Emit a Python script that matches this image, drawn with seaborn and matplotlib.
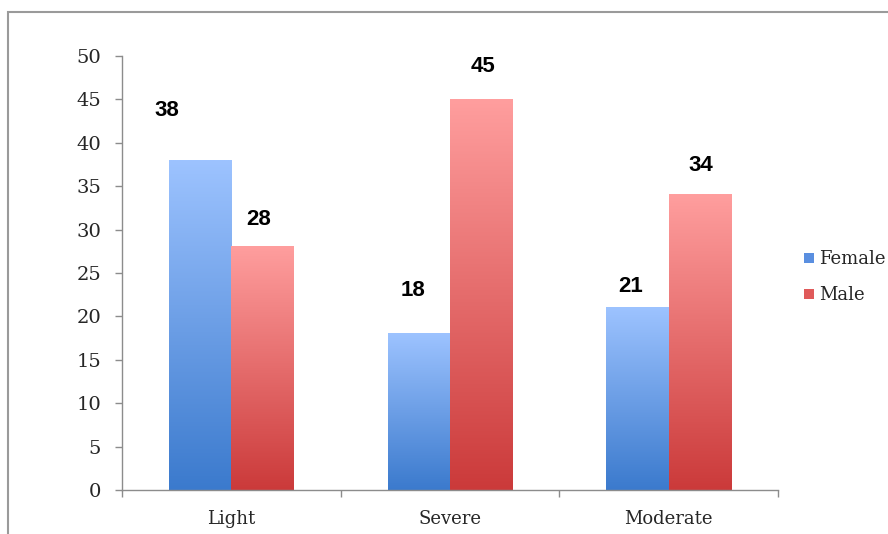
import numpy as np
import pandas as pd
import matplotlib
matplotlib.use('Agg')
import matplotlib.pyplot as plt
import seaborn as sns
from matplotlib.colors import LinearSegmentedColormap
from matplotlib.patches import Rectangle
from matplotlib.lines import Line2D

categories = ["Light", "Severe", "Moderate"]
series = ["Female", "Male"]
female = [38, 18, 21]
male = [28, 45, 34]

# label nudges (points) so the numbers sit roughly where the original put them
label_dx = {"Female": [-24, -4, -5], "Male": [-3, 1, 1]}
label_dy = {"Female": [36, 31, 15], "Male": [20, 24, 21]}

# gradient end colours: (top, bottom)
grads = {"Female": ("#9dc3ff", "#3b7acd"), "Male": ("#ff9e9e", "#cb3a3a")}

df = pd.DataFrame({
    "Severity": categories * 2,
    "Count": female + male,
    "Gender": ["Female"] * 3 + ["Male"] * 3,
})

sns.set_theme(style="white")
plt.rcParams['font.family'] = ['DejaVu Serif']

fig = plt.figure(figsize=(8.88, 5.34), dpi=100)
ax = fig.add_axes([122 / 888, 1 - 490 / 534, 656 / 888, 434 / 534])

sns.barplot(data=df, x="Severity", y="Count", hue="Gender", order=categories,
            hue_order=series, width=0.57,
            palette={k: v[1] for k, v in grads.items()}, legend=False, ax=ax)

# swap each flat bar for a vertical gradient
for name, cont in zip(series, ax.containers):
    cmap = LinearSegmentedColormap.from_list(name, [grads[name][1], grads[name][0]])
    for i, bar in enumerate(cont):
        x0, y0 = bar.get_x(), bar.get_y()
        w, h = bar.get_width(), bar.get_height()
        ax.imshow(np.linspace(0, 1, 256).reshape(-1, 1), extent=[x0, x0 + w, y0, y0 + h],
                  origin='lower', cmap=cmap, aspect='auto', zorder=2)
        bar.set_visible(False)
        ax.annotate(f"{h:.0f}", (x0 + w / 2, y0 + h), xytext=(label_dx[name][i], label_dy[name][i]),
                    textcoords='offset points', ha='center', va='center',
                    fontsize=16, fontweight='bold', family=['Liberation Sans', 'DejaVu Sans'],
                    color='black')

ax.set_xlim(-0.5, 2.5)
ax.set_ylim(0, 50)
ax.set_yticks(range(0, 51, 5))
ax.set_xlabel("")
ax.set_ylabel("")
ax.set_xticks([-0.5, 0.5, 1.5, 2.5], minor=True)
ax.tick_params(axis='y', left=True, length=5, width=1, color='#8c8c8c', labelsize=14, pad=10)
ax.tick_params(axis='x', which='major', bottom=False, labelsize=13, pad=8.5)
ax.tick_params(axis='x', which='minor', bottom=True, length=5, width=1, color='#8c8c8c')
for s in ['top', 'right']:
    ax.spines[s].set_visible(False)
for s in ['left', 'bottom']:
    ax.spines[s].set_color('#8c8c8c')
    ax.spines[s].set_linewidth(1)

handles = [Line2D([], [], marker='s', ls='', markersize=7, markerfacecolor='#5a8fe0',
                  markeredgewidth=0, label="Female"),
           Line2D([], [], marker='s', ls='', markersize=7, markerfacecolor='#e05a5a',
                  markeredgewidth=0, label="Male")]
fig.legend(handles=handles, loc='center left', bbox_to_anchor=(796 / 888, 1 - 277 / 534),
           frameon=False, fontsize=13, handlelength=0.6, handletextpad=0.3, labelspacing=1.0,
           borderaxespad=0)

# outer chart frame (cut off at right and bottom like the screenshot)
fig.add_artist(Rectangle((8 / 888, -0.1), 1.2, 1.1 - 12 / 534, transform=fig.transFigure,
                         fill=False, edgecolor='#9a9a9a', lw=1.5))

fig.savefig("out.png", dpi=100)
